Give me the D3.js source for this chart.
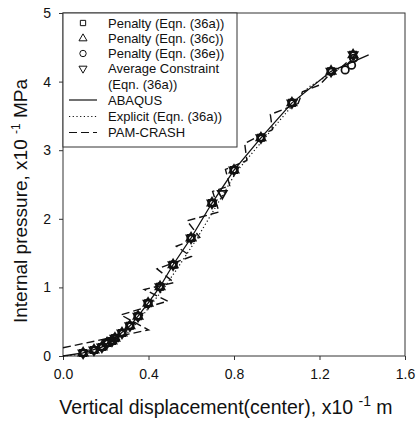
<!DOCTYPE html>
<html>
<head>
<meta charset="utf-8">
<script src="https://cdn.jsdelivr.net/npm/d3@7"></script>
<style>
  body { margin: 0; background: #fff; }
  svg { font-family: "Liberation Sans", Arial, Helvetica, sans-serif; }
</style>
</head>
<body>
<div id="chart"></div>
<script>
// displacement in x10^-1 m, pressure in x10^-1 MPa
var penaltyA_x = [0.094,0.145,0.182,0.206,0.229,0.243,0.276,0.313,0.351,0.398,0.454,0.515,0.599,0.697,0.800,0.926,1.071,1.254,1.357];
var penaltyA_y = [0.044,0.087,0.130,0.190,0.220,0.260,0.335,0.440,0.580,0.770,1.010,1.330,1.720,2.230,2.710,3.180,3.690,4.150,4.390];

var penaltyC_x = [0.094,0.145,0.182,0.206,0.229,0.243,0.276,0.313,0.351,0.398,0.454,0.515,0.599,0.697,0.800,0.926,1.071,1.254,1.357];
var penaltyC_y = [0.044,0.087,0.130,0.190,0.220,0.260,0.335,0.440,0.580,0.770,1.010,1.330,1.720,2.230,2.710,3.180,3.690,4.150,4.390];

var penaltyE_x = [0.094,0.145,0.182,0.206,0.229,0.243,0.276,0.313,0.351,0.398,0.454,0.515,0.599,0.697,0.800,0.926,1.071,1.254,1.320,1.350,1.360];
var penaltyE_y = [0.044,0.087,0.130,0.190,0.220,0.260,0.335,0.440,0.580,0.770,1.010,1.330,1.720,2.230,2.710,3.180,3.690,4.150,4.170,4.240,4.340];

var average_x = [0.094,0.145,0.182,0.206,0.229,0.243,0.276,0.313,0.351,0.398,0.454,0.515,0.599,0.697,0.745,0.800,0.926,1.071,1.254,1.357];
var average_y = [0.044,0.087,0.130,0.190,0.220,0.260,0.335,0.440,0.580,0.770,1.010,1.330,1.720,2.230,2.370,2.710,3.180,3.690,4.150,4.390];

var abaqus_x = [0.000,0.094,0.182,0.243,0.313,0.351,0.398,0.454,0.515,0.599,0.697,0.800,0.926,1.071,1.254,1.430];
var abaqus_y = [0.000,0.044,0.130,0.260,0.440,0.580,0.770,1.010,1.330,1.720,2.230,2.710,3.180,3.690,4.150,4.390];

var explicit_x = [0.000,0.100,0.200,0.270,0.330,0.400,0.470,0.540,0.620,0.710,0.810,0.950,1.100,1.150,1.270,1.380];
var explicit_y = [0.000,0.030,0.120,0.250,0.420,0.700,0.980,1.300,1.680,2.150,2.680,3.200,3.750,3.920,4.150,4.350];

var pam_x = [0.000,0.400,0.270,0.490,0.380,0.520,0.440,0.600,0.530,0.640,0.580,0.730,0.700,0.780,0.760,0.860,0.850,0.980,0.970,1.100,1.120,1.200,1.240,1.300,1.370];
var pam_y = [0.120,0.380,0.600,0.800,0.970,1.070,1.270,1.450,1.600,1.730,1.970,2.100,2.400,2.480,2.720,2.850,3.100,3.300,3.520,3.680,3.850,3.950,4.080,4.200,4.400];

var xTicks = [0.0, 0.4, 0.8, 1.2, 1.6];
var yTicks = [0, 1, 2, 3, 4, 5];

var legendLabels = ["Penalty (Eqn. (36a))", "Penalty (Eqn. (36c))", "Penalty (Eqn. (36e))", "Average Constraint", "(Eqn. (36a))", "ABAQUS", "Explicit (Eqn. (36a))", "PAM-CRASH"];

var W = 416, H = 428;
var pLeft = 63, pRight = 405, pTop = 13, pBottom = 356;

var svg = d3.select("#chart").append("svg")
  .attr("width", W).attr("height", H);

var x = d3.scaleLinear().domain([0, 1.6]).range([pLeft, pRight]);
var y = d3.scaleLinear().domain([0, 5]).range([pBottom, pTop]);

function zip(xs, ys) {
  return xs.map(function(v, i) { return [v, ys[i]]; });
}

var ink = "#111";

// frame
svg.append("rect")
  .attr("x", pLeft).attr("y", pTop)
  .attr("width", pRight - pLeft).attr("height", pBottom - pTop)
  .style("fill", "none").style("stroke", "#333").style("stroke-width", 1);

// axes
var xAxis = d3.axisBottom(x).tickValues(xTicks).tickSize(4).tickSizeOuter(0)
  .tickFormat(d3.format(".1f"));
var yAxis = d3.axisLeft(y).tickValues(yTicks).tickSize(4).tickSizeOuter(0)
  .tickFormat(d3.format("d"));

var gx = svg.append("g").attr("transform", "translate(0," + pBottom + ")").call(xAxis);
var gy = svg.append("g").attr("transform", "translate(" + pLeft + ",0)").call(yAxis);
[gx, gy].forEach(function(g) {
  g.select(".domain").remove();
  g.selectAll("line").style("stroke", "#333");
  g.selectAll("text").style("font-size", "14px").style("fill", ink)
    .style("font-family", "'Liberation Sans', Arial, sans-serif");
});
gx.selectAll("text").attr("dy", "1.15em");
gy.selectAll("text").attr("x", -12);

// lines
var line = d3.line()
  .x(function(d) { return x(d[0]); })
  .y(function(d) { return y(d[1]); });

svg.append("path").attr("d", line(zip(abaqus_x, abaqus_y)))
  .style("fill", "none").style("stroke", ink).style("stroke-width", 1.3);
svg.append("path").attr("d", line(zip(explicit_x, explicit_y)))
  .style("fill", "none").style("stroke", ink).style("stroke-width", 1.2)
  .style("stroke-dasharray", "1.2,2.5");
svg.append("path").attr("d", line(zip(pam_x, pam_y)))
  .style("fill", "none").style("stroke", ink).style("stroke-width", 1.4)
  .style("stroke-dasharray", "8,4");

// markers
var symSquare = d3.symbol().type(d3.symbolSquare).size(40);
var symTri = d3.symbol().type(d3.symbolTriangle).size(36);
var symCircle = d3.symbol().type(d3.symbolCircle).size(44);

function markers(xs, ys, sym, flip) {
  svg.append("g").selectAll("path")
    .data(zip(xs, ys)).enter()
    .append("path")
    .attr("d", sym)
    .attr("transform", function(d) {
      return "translate(" + x(d[0]) + "," + y(d[1]) + ")" + (flip ? " rotate(180)" : "");
    })
    .style("fill", "none").style("stroke", ink).style("stroke-width", 1.7);
}
markers(penaltyA_x, penaltyA_y, symSquare, false);
markers(penaltyC_x, penaltyC_y, symTri, false);
markers(penaltyE_x, penaltyE_y, symCircle, false);
markers(average_x, average_y, symTri, true);

// legend
var lg = svg.append("g");
lg.append("rect")
  .attr("x", pLeft).attr("y", pTop)
  .attr("width", 237 - pLeft).attr("height", 147 - pTop)
  .style("fill", "#fff").style("stroke", "#333").style("stroke-width", 1);

var rowY = [23, 38.5, 53.5, 68.5, 84, 100, 116.5, 132.5];
var symX = 83, textX = 108;

var legendSyms = [
  {sym: d3.symbol().type(d3.symbolSquare).size(28), flip: false},
  {sym: d3.symbol().type(d3.symbolTriangle).size(28), flip: false},
  {sym: d3.symbol().type(d3.symbolCircle).size(32), flip: false},
  {sym: d3.symbol().type(d3.symbolTriangle).size(28), flip: true}
];
legendSyms.forEach(function(s, i) {
  lg.append("path").attr("d", s.sym)
    .attr("transform", "translate(" + symX + "," + rowY[i] + ")" + (s.flip ? " rotate(180)" : ""))
    .style("fill", "none").style("stroke", ink).style("stroke-width", 1);
});

var lineStyles = [null, "1.2,2.5", "8,4"];
lineStyles.forEach(function(ds, i) {
  var ln = lg.append("line")
    .attr("x1", 69).attr("x2", 97)
    .attr("y1", rowY[5 + i]).attr("y2", rowY[5 + i])
    .style("stroke", ink).style("stroke-width", 1.2);
  if (ds) ln.style("stroke-dasharray", ds);
});

lg.selectAll("text.lab")
  .data(legendLabels).enter()
  .append("text")
  .attr("class", "lab")
  .attr("x", textX)
  .attr("y", function(d, i) { return rowY[i]; })
  .attr("dy", "0.35em")
  .style("font-size", "13px").style("fill", ink)
  .text(function(d) { return d; });

// axis titles
var xt = svg.append("text")
  .attr("x", 226).attr("y", 414)
  .attr("text-anchor", "middle")
  .style("font-size", "19.5px").style("fill", ink);
xt.append("tspan").text("Vertical displacement(center), x10 ");
xt.append("tspan").attr("dy", -8).style("font-size", "14px").text("-1");
xt.append("tspan").attr("dy", 8).text(" m");

var yt = svg.append("text")
  .attr("transform", "translate(27,201) rotate(-90)")
  .attr("text-anchor", "middle")
  .style("font-size", "19px").style("fill", ink);
yt.append("tspan").text("Internal pressure, x10 ");
yt.append("tspan").attr("dy", -7).style("font-size", "12px").text("-1");
yt.append("tspan").attr("dy", 7).text(" MPa");
</script>
</body>
</html>
